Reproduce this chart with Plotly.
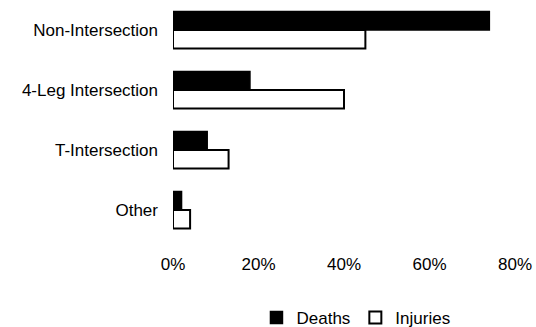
import plotly.graph_objects as go

categories = ["Non-Intersection", "4-Leg Intersection", "T-Intersection", "Other"]
deaths = [74, 18, 8, 2]
injuries = [45, 40, 13, 4]
x_ticks = [0, 20, 40, 60, 80]
x_tick_labels = ["0%", "20%", "40%", "60%", "80%"]

fig = go.Figure()
fig.add_trace(go.Bar(
    y=categories, x=deaths, name="Deaths", orientation="h",
    marker=dict(color="black", line=dict(color="black", width=1.5)),
))
fig.add_trace(go.Bar(
    y=categories, x=injuries, name="Injuries", orientation="h",
    marker=dict(color="white", line=dict(color="black", width=2)),
))

fig.update_layout(
    width=536, height=327,
    margin=dict(l=173, r=21, t=0, b=87, autoexpand=False),
    paper_bgcolor="white", plot_bgcolor="white",
    font=dict(family="Liberation Sans, Arial, sans-serif", size=17, color="black"),
    barmode="group", bargap=0.38, bargroupgap=0,
    showlegend=True,
    legend=dict(orientation="h", x=0.535, xanchor="center", y=-0.325, yanchor="middle",
                font=dict(size=17), itemwidth=30, traceorder="normal"),
)
fig.update_xaxes(range=[0, 80], tickvals=x_ticks, ticktext=x_tick_labels, showgrid=False,
                 zeroline=False, showline=False, ticks="", ticklabelstandoff=12,
                 automargin=False)
fig.update_yaxes(categoryorder="array", categoryarray=categories, autorange="reversed",
                 showgrid=False, showline=False, ticks="", ticklabelstandoff=14,
                 automargin=False)

fig.write_html("out.html", config={"displayModeBar": False},
               post_script="document.body.style.margin='0';")
